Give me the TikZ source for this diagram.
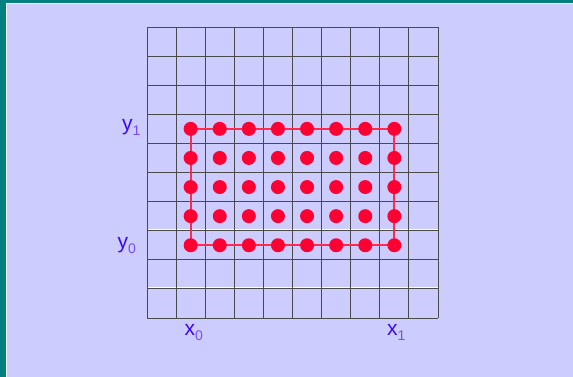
\documentclass[tikz,border=0pt]{standalone}
\usepackage{fontspec}
\setmainfont{Liberation Sans}
\definecolor{bg}{HTML}{CCCCFF}
\definecolor{frame}{HTML}{008080}
\definecolor{dotred}{HTML}{FF0033}
\definecolor{linered}{HTML}{FF2A4D}
\definecolor{labmain}{HTML}{3A0AF5}
\definecolor{labsub}{HTML}{7A4CFF}
\definecolor{gridc}{HTML}{4A4A4A}
\tikzset{
  gridline/.style={draw=gridc, line width=0.85pt},
  dotnode/.style={circle, fill=dotred, draw=none, minimum size=14pt, inner sep=0pt},
  rectline/.style={draw=linered, line width=1.8pt},
  lab/.style={inner sep=0pt, anchor=base west, text=labmain, font=\fontsize{21}{21}\selectfont}
}
\newcommand{\sublab}[1]{\raisebox{-5pt}{\textcolor{labsub}{\fontsize{14}{14}\selectfont #1}}}
\begin{document}
\begin{tikzpicture}[x=1pt,y=-1pt]
\useasboundingbox (0,0) rectangle (573,377);
\fill[bg] (0,0) rectangle (573,377);
\fill[frame] (0,0) rectangle (6,377);
\fill[frame] (0,0) rectangle (573,3);
\fill[white] (6,3) rectangle (7.2,377);
\fill[white] (6,3) rectangle (573,4.2);
% white artifacts
\draw[white, line width=1pt] (147,229.6) -- (438,229.6);
\draw[white, line width=1pt] (147,287.8) -- (438,287.8);
% grid
\foreach \k in {0,...,10}{
  \draw[gridline] ({147+29.1*\k},27) -- ({147+29.1*\k},318);
  \draw[gridline] (147,{27+29.1*\k}) -- (438,{27+29.1*\k});
}
% dots
\foreach \i in {1,...,8}{
  \foreach \j in {3,...,7}{
    \coordinate (c-\i-\j) at ({147+29.1*(\i+0.5)},{27+29.1*(\j+0.5)});
  }
}
\draw[rectline] (c-1-3) -- (c-8-3) -- (c-8-7) -- (c-1-7) -- cycle;
\foreach \i in {1,...,8}{
  \foreach \j in {3,...,7}{
    \node[dotnode] (d-\i-\j) at (c-\i-\j) {};
  }
}
% labels
\node[lab] (ly1) at (122,131) {y\sublab{1}};
\node[lab] (ly0) at (117.5,248) {y\sublab{0}};
\node[lab] (lx0) at (184.5,335) {x\sublab{0}};
\node[lab] (lx1) at (387,335) {x\sublab{1}};
\end{tikzpicture}
\end{document}
